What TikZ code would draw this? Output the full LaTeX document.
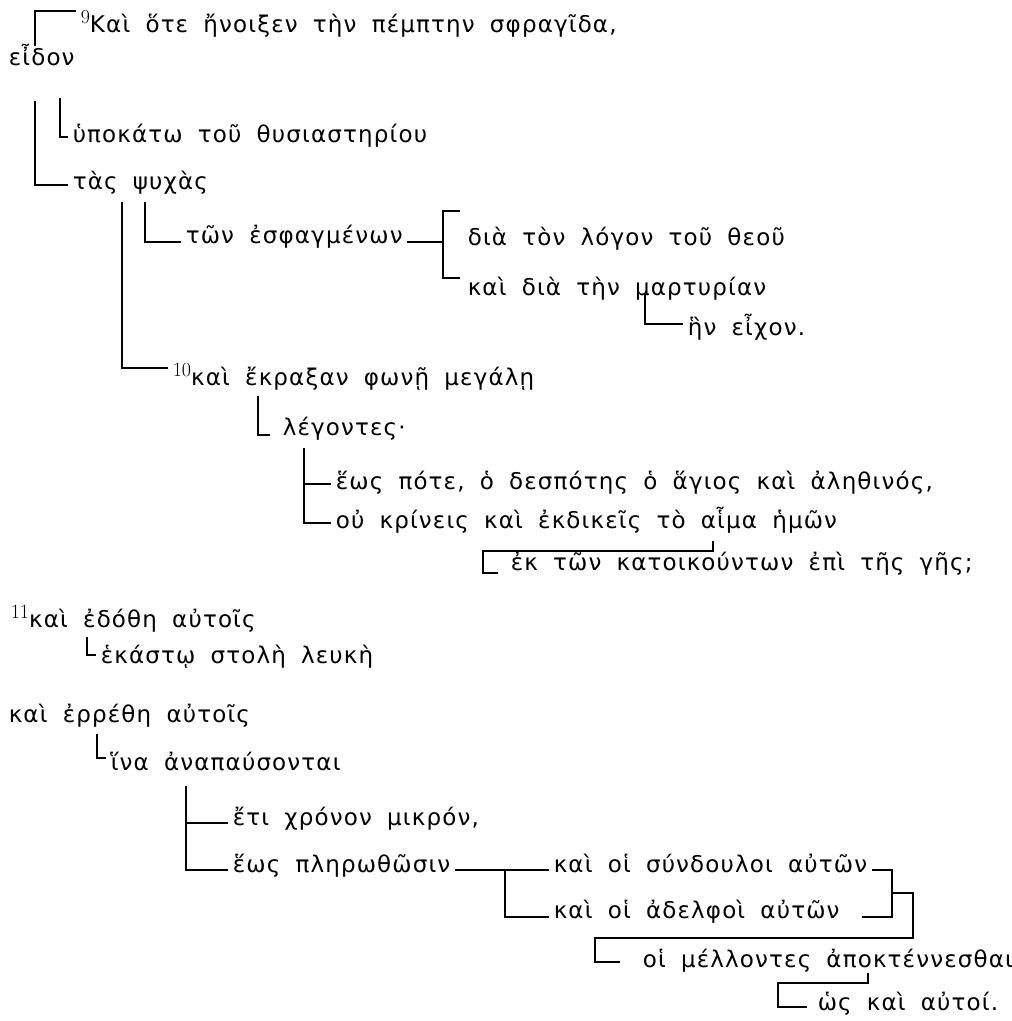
\documentclass[tikz,border=0pt]{standalone}
\usepackage{fontspec}
\newfontfamily\grk[LetterSpace=5,WordSpace=1.8]{DejaVu Sans}
\newcommand\vnum[1]{\raisebox{9pt}{\rmfamily\fontsize{20}{20}\selectfont #1}}

\begin{document}
\begin{tikzpicture}[x=1pt,y=-1pt,line width=1.6pt,
    wd/.style={anchor=base west,inner xsep=4pt,inner ysep=0pt,text height=14pt,text depth=4pt,
      font=\grk\fontsize{23}{28}\selectfont}]
    \useasboundingbox (0,0) rectangle (1012,1021);
    \node[wd] (v9) at (76,32) {\vnum{9}Καὶ ὅτε ἤνοιξεν τὴν πέμπτην σφραγῖδα,};
    \node[wd] (eidon) at (4,65) {εἶδον};
    \node[wd] (hypo) at (68,142) {ὑποκάτω τοῦ θυσιαστηρίου};
    \node[wd] (psyx) at (68,189) {τὰς ψυχὰς};
    \node[wd] (esfag) at (181,243) {τῶν ἐσφαγμένων};
    \node[wd] (dia1) at (463,245) {διὰ τὸν λόγον τοῦ θεοῦ};
    \node[wd] (dia2) at (463,295) {καὶ διὰ τὴν μαρτυρίαν};
    \node[wd] (hen) at (683,335) {ἣν εἶχον.};
    \node[wd] (v10) at (168,385) {\vnum{10}καὶ ἔκραξαν φωνῇ μεγάλῃ};
    \node[wd] (leg) at (278,435) {λέγοντες·};
    \node[wd] (heos) at (331,489) {ἕως πότε, ὁ δεσπότης ὁ ἅγιος καὶ ἀληθινός,};
    \node[wd] (ou) at (331,528) {οὐ κρίνεις καὶ ἐκδικεῖς τὸ αἷμα ἡμῶν};
    \node[wd] (ek) at (506,570) {ἐκ τῶν κατοικούντων ἐπὶ τῆς γῆς;};
    \node[wd] (v11) at (6,627) {\vnum{11}καὶ ἐδόθη αὐτοῖς};
    \node[wd] (hek) at (96,663) {ἑκάστῳ στολὴ λευκὴ};
    \node[wd] (erre) at (4,722) {καὶ ἐρρέθη αὐτοῖς};
    \node[wd] (hina) at (106,770) {ἵνα ἀναπαύσονται};
    \node[wd] (eti) at (228,825) {ἔτι χρόνον μικρόν,};
    \node[wd] (heos2) at (228,872) {ἕως πληρωθῶσιν};
    \node[wd] (syn) at (549,872) {καὶ οἱ σύνδουλοι αὐτῶν};
    \node[wd] (adel) at (549,918) {καὶ οἱ ἀδελφοὶ αὐτῶν};
    \node[wd] (mell) at (638,967) {οἱ μέλλοντες ἀποκτέννεσθαι};
    \node[wd] (hos) at (813,1010) {ὡς καὶ αὐτοί.};

    \coordinate (dsp) at ([xshift=-20pt,yshift=29pt]dia1.west);
    \coordinate (sF) at ([xshift=26pt,yshift=-8pt]leg.south west);
    \coordinate (sG) at ([xshift=382pt,yshift=-8pt]ou.south west);
    \coordinate (sJ) at ([xshift=80pt,yshift=-11pt]hina.south west);
    \coordinate (sK) at ([xshift=-44pt,yshift=-3pt]syn.west);
    \coordinate (kR) at ([xshift=343pt,yshift=-3pt]syn.west);
    \coordinate (sM) at ([xshift=230pt,yshift=-1pt]mell.south west);

    \draw ([xshift=31pt,yshift=4pt]eidon.north west) |- ([yshift=16pt]v9.west);
    \draw ([xshift=31pt,yshift=-31pt]eidon.south west) |- ([yshift=-1pt]psyx.west);
    \draw ([xshift=56pt,yshift=-28pt]eidon.south west) |- (hypo.west);
    \draw ([xshift=77pt,yshift=-8pt]psyx.south west) |- ([yshift=-4pt]esfag.west);
    \draw ([yshift=-4pt]esfag.east) -| (dsp);
    \draw ([xshift=-3pt,yshift=29pt]dia1.west) -- (dsp) |- ([xshift=-3pt,yshift=12pt]dia2.west);
    \draw ([xshift=182pt,yshift=6pt]dia2.south west) |- ([yshift=6pt]hen.west);
    \draw ([xshift=54pt,yshift=-8pt]psyx.south west) |- ([yshift=12pt]v10.west);
    \draw ([xshift=90pt,yshift=-6pt]v10.south west) |- ([xshift=-8pt,yshift=-5pt]leg.west);
    \draw (sF) |- (ou.west) (heos.west) -- (heos.west -| sF);
    \draw (sG) -- ++(0,-10pt) -| ([xshift=-23pt,yshift=-8pt]ek.west) -- ([xshift=-8pt,yshift=-8pt]ek.west);
    \draw ([xshift=81pt,yshift=-5pt]v11.south west) |- ([yshift=3pt]hek.west);
    \draw ([xshift=93pt,yshift=-7pt]erre.south west) |- ([yshift=7pt]hina.west);
    \draw (sJ) |- ([yshift=-3pt]heos2.west) ([yshift=-3pt]eti.west) -- ([yshift=-3pt]eti.west -| sJ);
    \draw ([yshift=-3pt]heos2.east) -- ([yshift=-3pt]syn.west);
    \draw (sK) |- ([yshift=-4pt]adel.west);
    \draw ([yshift=-3pt]syn.east) -- (kR) |- ([xshift=18pt,yshift=-4pt]adel.east);
    \draw ([yshift=-23pt]kR) -| ([xshift=21pt,yshift=-68pt]kR) -| ([xshift=-43pt]mell.west) -- ([xshift=-18pt]mell.west);
    \draw (sM) -- ++(0,-10pt) -| ([xshift=-35pt,yshift=-2pt]hos.west) -- ([xshift=-6pt,yshift=-2pt]hos.west);
\end{tikzpicture}
\end{document}
